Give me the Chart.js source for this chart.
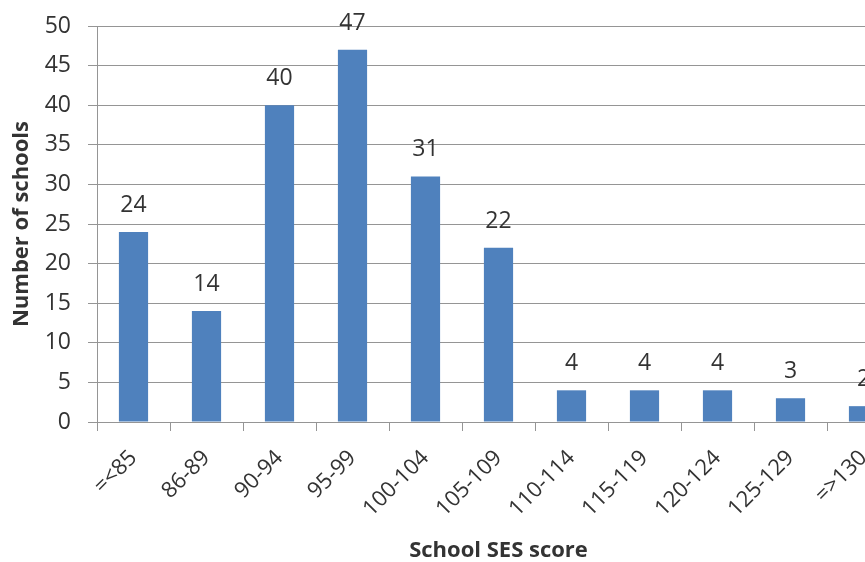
<!DOCTYPE html>
<html>
<head>
<meta charset="utf-8">
<script src="https://cdn.jsdelivr.net/npm/chart.js@4/dist/chart.umd.min.js"></script>
<style>
  html, body { margin: 0; padding: 0; background: #fff; overflow: hidden; width: 865px; height: 562px; }
  #c { display: block; }
</style>
</head>
<body>
<canvas id="c" width="910" height="562"></canvas>
<script>
const categories = ["=<85", "86-89", "90-94", "95-99", "100-104", "105-109", "110-114", "115-119", "120-124", "125-129", "=>130"];
const schoolCounts = [24, 14, 40, 47, 31, 22, 4, 4, 4, 3, 2];
const yTicks = { min: 0, max: 50, step: 5 };
const xTitle = "School SES score";
const yTitle = "Number of schools";

const FONT = "'Open Sans', 'Noto Sans', sans-serif";
const GRID = '#959595';
const TEXT = '#333333';

const valueLabels = {
  id: 'valueLabels',
  afterDatasetsDraw(chart) {
    const ctx = chart.ctx;
    const meta = chart.getDatasetMeta(0);
    ctx.save();
    ctx.font = "23px " + FONT;
    ctx.fillStyle = TEXT;
    ctx.textAlign = 'center';
    ctx.textBaseline = 'alphabetic';
    meta.data.forEach((bar, i) => {
      ctx.fillText(String(chart.data.datasets[0].data[i]), bar.x, bar.y - 20);
    });
    ctx.restore();
  }
};

new Chart(document.getElementById('c'), {
  type: 'bar',
  data: {
    labels: categories,
    datasets: [{
      data: schoolCounts,
      backgroundColor: '#4f81bd',
      borderWidth: 0,
      barPercentage: 0.4,
      categoryPercentage: 1.0
    }]
  },
  options: {
    responsive: false,
    animation: false,
    layout: { padding: { top: 26, right: 10, left: 0, bottom: 0 } },
    plugins: { legend: { display: false }, tooltip: { enabled: false } },
    scales: {
      x: {
        grid: { display: true, drawOnChartArea: false, color: GRID, tickLength: 9, offset: true },
        border: { color: GRID, width: 1 },
        ticks: { color: TEXT, font: { family: FONT, size: 22 }, maxRotation: 45, minRotation: 45, padding: 14, autoSkip: false },
        title: { display: true, text: xTitle, color: TEXT, font: { family: FONT, size: 22, weight: 'bold', lineHeight: 1.0 }, padding: { top: 0, bottom: 0 } },
        afterFit(scale) { scale.height = 140; }
      },
      y: {
        min: yTicks.min, max: yTicks.max,
        grid: { color: GRID, tickLength: 9 },
        border: { color: GRID, width: 1 },
        ticks: { stepSize: yTicks.step, color: TEXT, font: { family: FONT, size: 23, lineHeight: 0.5 }, padding: 17 },
        title: { display: true, text: yTitle, color: TEXT, font: { family: FONT, size: 22, weight: 'bold' }, padding: { top: 9, bottom: 0 } },
        afterFit(scale) { scale.width = 97; }
      }
    }
  },
  plugins: [valueLabels]
});
</script>
</body>
</html>
